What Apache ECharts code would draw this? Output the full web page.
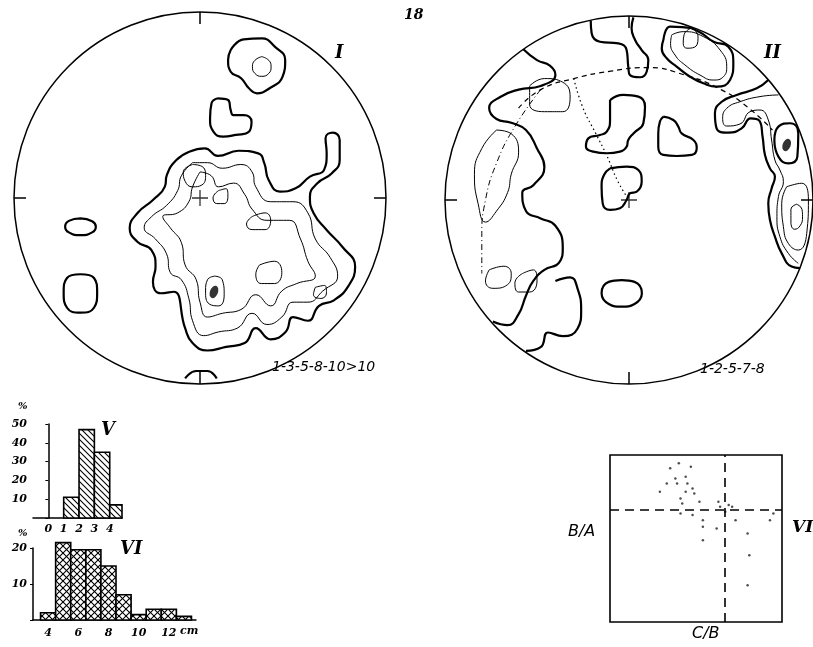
<!DOCTYPE html>
<html><head><meta charset="utf-8">
<script src="https://cdn.jsdelivr.net/npm/echarts@6/dist/echarts.min.js"></script>
<style>html,body{margin:0;padding:0;background:#fff}#c{width:813px;height:647px}</style>
</head><body><div id="c"></div>
<script>
// Histogram V (bin edges, percent)
var histV_edges = [1, 2, 3, 4, 4.8];
var histV_values = [11, 47, 35, 7];
var histV_yticks = [10, 20, 30, 40, 50];
var histV_xticks = [0, 1, 2, 3, 4];
// Histogram VI
var histVI_edges = [3.5, 4.5, 5.5, 6.5, 7.5, 8.5, 9.5, 10.5, 11.5, 12.5, 13.5];
var histVI_values = [2, 21.5, 19.5, 19.5, 15, 7, 1.5, 3, 3, 1];
var histVI_yticks = [10, 20];
var histVI_xticks = [4, 6, 8, 10, 12];
// Scatter VII (C/B, B/A)
var scatterVII = [[0.33,0.83],[0.38,0.86],[0.44,0.87],[0.39,0.83],[0.45,0.83],[0.29,0.78],[0.44,0.78],[0.48,0.80],[0.41,0.74],[0.42,0.71],[0.49,0.77],[0.52,0.72],[0.63,0.72],[0.64,0.69],[0.69,0.70],[0.67,0.66],[0.71,0.69],[0.41,0.65],[0.48,0.64],[0.54,0.61],[0.54,0.57],[0.62,0.56],[0.73,0.61],[0.80,0.53],[0.93,0.61],[0.95,0.65],[0.54,0.49],[0.81,0.40],[0.80,0.22],[0.35,0.92],[0.40,0.95],[0.47,0.93]];
var refVII = 0.667;

// Stereonet I contours (x,y in percent of radius, north up)
var netI_thick = [
 [[16.5,79.6],[23.5,85.3],[33.2,85.8],[40.2,81.4],[45.8,74.2],[44.4,65.2],[37.4,59],[30.5,56.3],[26.3,59],[22.1,64.4],[16.5,67.9],[15.1,74.2],[16.5,79.6]],
 [[9.6,53.6],[15.1,52.7],[16.5,47.3],[17.9,44.6],[23.5,44.6],[27.7,41],[26.3,35.6],[19.3,33.9],[12.4,33],[7.3,35.6],[5.4,42.8],[6.2,50.9],[9.6,53.6]],
 [[-64.3,-11],[-58,-12.5],[-56,-15.4],[-58,-18.5],[-64.3,-20],[-70.5,-18.5],[-72.5,-15.4],[-70.5,-12.3],[-64.3,-11]],
 [[-64.3,-41],[-57,-43],[-55.3,-51],[-57,-59],[-64.3,-61.6],[-71.5,-59],[-73.3,-51],[-71.5,-43],[-64.3,-41]],
 [[-5.8,24.9],[2.6,26.7],[9.6,22.6],[20.7,25.4],[31.3,24],[34.6,18.6],[36.9,9.7],[43,3.4],[51.4,5.2],[59.1,11.5],[66.7,15.1],[68.1,24],[67.5,32.1],[71.4,35.1],[75.1,31.2],[75.1,20.4],[70.9,13.3],[63.1,7.9],[59.1,0.7],[61.1,-8.2],[68.1,-17.2],[76.5,-26.2],[83.4,-36.9],[80,-47],[72,-55],[64,-58],[58,-66],[50,-64],[46,-72],[38,-76],[30,-70],[24,-78],[14,-80],[4,-82],[-4,-78],[-8,-70],[-14.1,-50.4],[-21.1,-51.2],[-25.3,-45],[-23.9,-36.9],[-26.1,-28],[-33.7,-23.5],[-37.8,-16.3],[-33.7,-8.2],[-25.3,-1.1],[-18.9,6.1],[-17.8,12.4],[-12.7,20.4],[-5.8,24.9]],
 [[-8,-97],[-2,-93],[4,-93],[9,-97]]
];
var netI_thin = [
 [[33.2,76],[37,74],[38.2,70.6],[37,67],[33.2,65.4],[29.5,67],[28.2,70.6],[29.5,74],[33.2,76]],
 [[-4,19],[4,19],[12,16],[22,18],[28,14],[30,6],[38,-2],[50,-2],[58,-8],[62,-22],[70,-32],[74,-42],[66,-50],[58,-56],[50,-56],[44,-64],[36,-68],[28,-62],[20,-70],[10,-72],[2,-74],[-4,-66],[-6,-54],[-10,-44],[-16,-40],[-18,-30],[-24,-22],[-30,-16],[-26,-10],[-18,-4],[-12,4],[-10,12],[-4,19]],
 [[0,14],[6,12],[10,6],[18,8],[24,2],[28,-6],[36,-12],[48,-12],[54,-22],[58,-34],[62,-42],[52,-46],[44,-50],[38,-58],[30,-52],[22,-60],[12,-62],[4,-64],[0,-56],[-2,-44],[-8,-36],[-10,-24],[-16,-16],[-20,-10],[-12,-8],[-6,-2],[-4,6],[0,14]],
 [[-4,18],[1,17],[3,12],[1,7],[-4,6],[-8,9],[-9,14],[-4,18]],
 [[10,4],[14,5],[15,1],[13,-3],[9,-3],[7,0],[10,4]],
 [[28,-10],[35,-8],[38,-12],[35,-17],[28,-17],[25,-14],[28,-10]],
 [[32,-36],[40,-34],[44,-40],[40,-46],[33,-46],[30,-41],[32,-36]],
 [[62,-48],[67,-47],[68,-51],[65,-54],[61,-52],[62,-48]],
 [[8,-42],[12,-44],[13,-52],[10,-58],[5,-57],[3,-50],[4,-44],[8,-42]]
];
var netI_spots = [[7.5,-50.5]];

// Stereonet II contours
var netII_thick = [
 [[-10.3,54.3],[-3.1,57.1],[5.1,56.2],[8.7,50.7],[7.8,41.7],[2.4,36.2],[-0.4,32.6],[-1.3,29],[-4.9,26.3],[-12.1,25.4],[-19.4,26.3],[-23.4,29],[-22.1,33.5],[-15.8,35.3],[-12.1,37.1],[-10.3,43.5],[-10.3,54.3]],
 [[18.7,45.3],[24.1,43.5],[26.8,39.9],[28.6,36.2],[35,32.6],[36.8,28.1],[34.1,24.5],[25.9,23.9],[18.7,24.5],[15.9,29],[15.9,36.2],[16.8,42.6],[18.7,45.3]],
 [[-10.3,17.2],[-1.3,18.1],[5.1,16.3],[6.9,10],[4.2,4.5],[0.5,3.6],[-1.3,0],[-4.9,-4.5],[-10.3,-5.4],[-14.3,-1.8],[-14.9,7.2],[-13.6,13.6],[-10.3,17.2]],
 [[-4,-43.5],[3,-44.5],[7,-50.7],[3,-56.5],[-4,-58],[-11,-56.5],[-14.9,-50.7],[-11,-44.5],[-4,-43.5]],
 [[-20.8,97.5],[-20.3,90.6],[-15.8,86],[-5.8,85.1],[-1.3,81.5],[-0.4,72.5],[0.5,67.9],[6,66.7],[9.6,69.7],[10.5,76.1],[6.9,81.5],[3.3,87],[1.4,93.3],[2.4,99.3]],
 [[18.7,87],[22.3,94.2],[29,94],[38,91.5],[46,86],[54,83.3],[56.7,74.3],[54.9,65.2],[47.6,61.6],[40.4,63.4],[33.2,67],[25.9,72.5],[20.5,77],[17.8,82.4],[18.7,87]],
 [[75.7,65.2],[69.4,60.7],[58.5,57.1],[50.4,53.4],[46.7,47.1],[47.6,38.9],[54,36.6],[61.2,38.9],[66.1,44.4],[70.8,43.1],[72.6,34.4],[73.9,24.5],[76.6,17.2],[79.3,12.7],[77.5,6.3],[75.7,-1.8],[76.6,-10.9],[79.3,-19.9],[83,-29],[88.4,-36.2],[92.9,-37]],
 [[79,32.6],[81.2,39.9],[87.5,41.7],[92,36.2],[91.5,23.6],[86.6,19.9],[81.2,23.6],[79,32.6]],
 [[-57.4,81.9],[-50,76],[-43,73],[-40,68],[-48,62],[-60,60],[-70,56],[-76,50],[-72,44],[-64,42],[-56,38],[-50,28],[-46,18],[-52,8],[-58,4],[-56,-6],[-48,-10],[-40,-14],[-36,-26],[-38,-34],[-46,-38],[-52,-44],[-56,-52],[-60,-62],[-66,-68],[-74,-66]],
 [[-40,-44],[-32,-42],[-28,-48],[-26,-60],[-28,-70],[-36,-74],[-44,-72],[-48,-80],[-56,-82]]
];
var netII_thin = [
 [[23.2,89.7],[29.5,91.5],[40.4,88.8],[49.5,81.5],[53.1,72.5],[51.3,67],[45.8,65.2],[38.6,67.9],[30.4,73.4],[25,78.8],[22.6,85.1],[23.2,89.7]],
 [[33.5,93.3],[36.5,91.5],[37.5,87.9],[35.5,83],[31.5,82.5],[29.5,85],[30,90],[33.5,93.3]],
 [[81.2,57.1],[71.2,56.2],[60.3,53.4],[53.1,49.8],[50.9,44.4],[53.1,40.2],[60.3,41.3],[65.8,48],[71.2,48.9],[75.7,43.5],[77.5,32.6],[79.3,21.7],[82,16.3],[83.9,10],[81.2,1.8],[80.4,-9.1],[82,-19.9],[86.6,-29],[92,-34.4]],
 [[85.7,7.2],[93.8,9.1],[97.5,0],[96.6,-18.1],[92,-27.2],[86.6,-23.6],[83.9,-14.5],[83,-1.8],[85.7,7.2]],
 [[91.1,-2.3],[94,-5],[94.3,-9.1],[93,-14],[90,-15.9],[88,-12],[88,-5],[91.1,-2.3]],
 [[-54,62],[-46,66],[-36,64],[-32,56],[-36,48],[-46,48],[-54,52],[-54,62]],
 [[-72,38],[-64,36],[-60,26],[-64,14],[-66,4],[-72,-6],[-78,-12],[-82,-2],[-84,14],[-80,28],[-72,38]],
 [[-76,-38],[-68,-36],[-64,-40],[-66,-46],[-74,-48],[-78,-44],[-76,-38]],
 [[-58,-40],[-52,-38],[-50,-44],[-54,-50],[-60,-50],[-62,-45],[-58,-40]]
];
var netII_spots = [[85.7,29.9]];
var netII_dash = [[-60,50],[-48,60],[-30,66],[-10,70],[10,72],[30,68],[50,60],[65,50],[78,38]];
var netII_dot = [[-30,66],[-25,50],[-18,36],[-12,24],[-6,10],[0,0]];
var netII_dashdot = [[-48,60],[-62,40],[-72,20],[-78,0],[-80,-20],[-80,-40]];

function lineSeries(data, idx, w, type){
  return {type:'line', xAxisIndex:idx, yAxisIndex:idx, data:data, smooth:0.5, symbol:'none',
    lineStyle:{color:'#000', width:w, type:type||'solid'}, silent:true, z:3};
}
function spotSeries(data, idx){
  return {type:'scatter', xAxisIndex:idx, yAxisIndex:idx, data:data, symbol:'circle', symbolSize:[8,13], symbolRotate:-20,
    itemStyle:{color:'#000'}, z:4};
}
var crossPath = 'path://M0,5L10,5M5,0L5,10';

function makePattern(cross, step){
  var c = document.createElement('canvas'); c.width = step; c.height = step;
  var g = c.getContext('2d'); g.fillStyle='#fff'; g.fillRect(0,0,step,step);
  g.strokeStyle='#000'; g.lineWidth=1.1;
  g.beginPath(); g.moveTo(0,0); g.lineTo(step,step); g.moveTo(-step,0); g.lineTo(step, 2*step); g.moveTo(0,-step); g.lineTo(2*step,step); g.stroke();
  if(cross){ g.beginPath(); g.moveTo(step,0); g.lineTo(0,step); g.moveTo(2*step,0); g.lineTo(0,2*step); g.moveTo(step,-step); g.lineTo(-step,step); g.stroke(); }
  return c;
}
var patV = makePattern(false, 6), patVI = makePattern(true, 7);

function histSeries(edges, values, idx, pat){
  var d = values.map(function(v,i){ return [edges[i], edges[i+1], v]; });
  return {type:'custom', xAxisIndex:idx, yAxisIndex:idx, data:d, clip:false, z:3,
    renderItem:function(params, api){
      var p0 = api.coord([api.value(0), api.value(2)]);
      var p1 = api.coord([api.value(1), 0]);
      return {type:'rect', shape:{x:p0[0], y:p0[1], width:p1[0]-p0[0], height:p1[1]-p0[1]},
        style:{fill:{image:pat, repeat:'repeat'}, stroke:'#000', lineWidth:1.6}};
    }};
}

var chart = echarts.init(document.getElementById('c'), null, {renderer:'canvas'});
var hidden = {show:false};
var netAxisX = function(g){ return {type:'value', gridIndex:g, min:-100, max:100, show:false}; };
var labelFont = {fontFamily:'DejaVu Serif', fontStyle:'italic', fontWeight:'bold', color:'#000'};

var option = {
  backgroundColor:'#fff',
  animation:false,
  polar:[
    {center:[200,198], radius:186},
    {center:[629,200], radius:184}
  ],
  angleAxis:[0,1].map(function(i){ return {polarIndex:i, type:'value', min:0, max:360, interval:90, startAngle:90,
    axisLine:{lineStyle:{color:'#000', width:1.5}}, axisTick:{inside:true, length:12, lineStyle:{color:'#000', width:1.5}},
    axisLabel:hidden, splitLine:hidden}; }),
  radiusAxis:[0,1].map(function(i){ return {polarIndex:i, type:'value', min:0, max:100, show:false, axisLine:hidden, axisTick:hidden, axisLabel:hidden, splitLine:hidden}; }),
  grid:[
    {left:14, top:12, width:372, height:372},
    {left:445, top:16, width:368, height:368},
    {left:33, top:424, width:89, height:94},
    {left:33, top:548, width:163, height:72},
    {left:610, top:455, width:172, height:167}
  ],
  xAxis:[
    netAxisX(0), netAxisX(1),
    {type:'value', gridIndex:2, min:-1, max:4.8, interval:1, axisLine:{lineStyle:{color:'#000', width:1.5}}, axisTick:hidden, splitLine:hidden,
      axisLabel:Object.assign({fontSize:11, margin:6, formatter:function(v){ return histV_xticks.indexOf(v)>=0 ? String(v) : ''; }}, labelFont)},
    {type:'value', gridIndex:3, min:3, max:13.8, interval:1, axisLine:{lineStyle:{color:'#000', width:1.5}}, axisTick:hidden, splitLine:hidden,
      axisLabel:Object.assign({fontSize:11, margin:8, formatter:function(v){ return histVI_xticks.indexOf(v)>=0 ? String(v) : ''; }}, labelFont)},
    {type:'value', gridIndex:4, min:0, max:1, show:true, axisLine:{show:false}, axisTick:hidden, axisLabel:hidden, splitLine:hidden}
  ],
  yAxis:[
    netAxisX(0), netAxisX(1),
    {type:'value', gridIndex:2, min:0, max:50, interval:10, axisLine:{show:true, lineStyle:{color:'#000', width:1.5}}, axisTick:{show:true, length:3, lineStyle:{color:'#000'}}, splitLine:hidden,
      axisLabel:Object.assign({fontSize:11, margin:6, formatter:function(v){ return histV_yticks.indexOf(v)>=0 ? String(v) : ''; }}, labelFont)},
    {type:'value', gridIndex:3, min:0, max:20, interval:10, axisLine:{show:true, lineStyle:{color:'#000', width:1.5}}, axisTick:{show:true, length:3, lineStyle:{color:'#000'}}, splitLine:hidden,
      axisLabel:Object.assign({fontSize:11, margin:6, formatter:function(v){ return histVI_yticks.indexOf(v)>=0 ? String(v) : ''; }}, labelFont)},
    {type:'value', gridIndex:4, min:0, max:1, axisLine:{show:false}, axisTick:hidden, axisLabel:hidden, splitLine:hidden}
  ],
  series:[].concat(
    netI_thick.map(function(d){ return lineSeries(d,0,2.2); }),
    netI_thin.map(function(d){ return lineSeries(d,0,1); }),
    [spotSeries(netI_spots,0)],
    [{type:'scatter', xAxisIndex:0, yAxisIndex:0, data:[[0,0]], symbol:crossPath, symbolSize:16, itemStyle:{color:'none', borderColor:'#000', borderWidth:1.3}}],
    netII_thick.map(function(d){ return lineSeries(d,1,2.2); }),
    netII_thin.map(function(d){ return lineSeries(d,1,1); }),
    [lineSeries(netII_dash,1,1.2,[5,4]), lineSeries(netII_dot,1,1.2,[1.5,3]), lineSeries(netII_dashdot,1,1,[6,3,1,3])],
    [spotSeries(netII_spots,1)],
    [{type:'scatter', xAxisIndex:1, yAxisIndex:1, data:[[0,0]], symbol:crossPath, symbolSize:16, itemStyle:{color:'none', borderColor:'#000', borderWidth:1.3}}],
    [histSeries(histV_edges, histV_values, 2, patV), histSeries(histVI_edges, histVI_values, 3, patVI)],
    [{type:'scatter', xAxisIndex:4, yAxisIndex:4, data:scatterVII, symbolSize:2.5, itemStyle:{color:'#222'},
      markLine:{silent:true, symbol:'none', label:hidden, lineStyle:{color:'#000', type:[9,6], width:1.6},
        data:[{xAxis:refVII},{yAxis:refVII}]}},
     {type:'line', xAxisIndex:4, yAxisIndex:4, data:[], markArea:{silent:true, itemStyle:{color:'transparent', borderColor:'#000', borderWidth:1.6},
        data:[[{coord:[0,0]},{coord:[1,1]}]]}}]
  ),
  graphic:[
    {type:'text', left:404, top:8, style:Object.assign({text:'18', font:'italic bold 14px "DejaVu Serif"', fill:'#000'})},
    {type:'text', left:335, top:44, style:{text:'I', font:'italic bold 18px "DejaVu Serif"', fill:'#000'}},
    {type:'text', left:764, top:44, style:{text:'II', font:'italic bold 18px "DejaVu Serif"', fill:'#000'}},
    {type:'text', left:272, top:360, style:{text:'1-3-5-8-10>10', font:'italic 14px "DejaVu Sans"', fill:'#000'}},
    {type:'text', left:700, top:362, style:{text:'1-2-5-7-8', font:'italic 14px "DejaVu Sans"', fill:'#000'}},
    {type:'text', left:18, top:401, style:{text:'%', font:'italic bold 10px "DejaVu Serif"', fill:'#000'}},
    {type:'text', left:101, top:421, style:{text:'V', font:'italic bold 18px "DejaVu Serif"', fill:'#000'}},
    {type:'text', left:18, top:528, style:{text:'%', font:'italic bold 10px "DejaVu Serif"', fill:'#000'}},
    {type:'text', left:120, top:540, style:{text:'VI', font:'italic bold 18px "DejaVu Serif"', fill:'#000'}},
    {type:'text', left:180, top:626, style:{text:'cm', font:'italic bold 11px "DejaVu Serif"', fill:'#000'}},
    {type:'text', left:568, top:524, style:{text:'B/A', font:'italic 16px "DejaVu Sans"', fill:'#000'}},
    {type:'text', left:792, top:519, style:{text:'VII', font:'italic bold 17px "DejaVu Serif"', fill:'#000'}},
    {type:'text', left:692, top:626, style:{text:'C/B', font:'italic 16px "DejaVu Sans"', fill:'#000'}}
  ]
};
chart.setOption(option);
</script></body></html>
